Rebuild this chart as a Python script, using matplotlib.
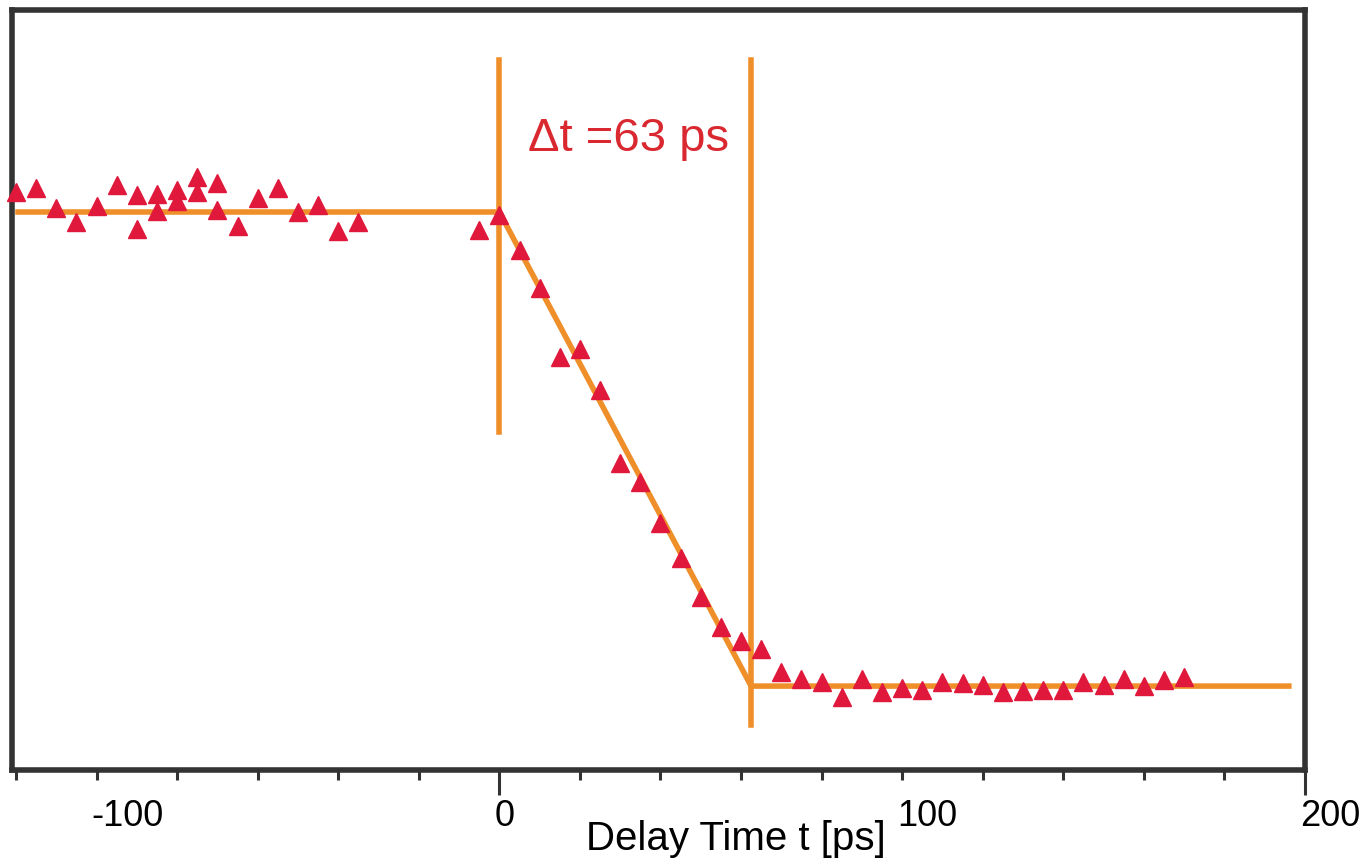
import numpy as np
import matplotlib.pyplot as plt
import matplotlib.transforms as mtransforms

# delay times [ps] and normalised signal
t_pre = [-120, -115, -110, -105, -100, -95, -90, -90, -85, -85, -80, -80,
         -75, -75, -70, -70, -65, -60, -55, -50, -45, -40, -35, -5, 0]
s_pre = [1.042, 1.051, 1.008, 0.979, 1.013, 1.057, 1.036, 0.964, 1.038, 1.002,
         1.046, 1.023, 1.074, 1.042, 1.061, 1.004, 0.970, 1.030, 1.051, 1.000,
         1.015, 0.960, 0.979, 0.962, 0.994]
t_ramp = [5, 10, 15, 20, 25, 30, 35, 40, 45, 50, 55, 60, 65]
s_ramp = [0.920, 0.840, 0.694, 0.711, 0.624, 0.470, 0.430, 0.344, 0.270,
          0.188, 0.124, 0.095, 0.078]
t_post = [70, 75, 80, 85, 90, 95, 100, 105, 110, 115, 120, 125, 130, 135,
          140, 145, 150, 155, 160, 165, 170]
s_post = [0.030, 0.015, 0.008, -0.023, 0.015, -0.013, -0.004, -0.008, 0.008,
          0.006, 0.002, -0.013, -0.011, -0.008, -0.008, 0.008, 0.002, 0.015,
          0.000, 0.013, 0.019]

# piecewise linear fit
fit_t = [-119.5, 0, 62.5, 196]
fit_s = [1.0, 1.0, 0.0, 0.0]
dt = 63
xticks_major = [-100, 0, 100, 200]

t = t_pre + t_ramp + t_post
s = s_pre + s_ramp + s_post

orange = '#EF8F2A'
red = '#E0193C'
dark = '#333333'

plt.rcParams['font.family'] = ['Liberation Sans', 'DejaVu Sans']
plt.rcParams['axes.unicode_minus'] = False

fig = plt.figure(figsize=(13.63, 8.64), dpi=100)
ax = fig.add_axes([0.0088, 0.1088, 0.9486, 0.8796])

ax.plot(fit_t, fit_s, color=orange, lw=4.0, solid_joinstyle='miter', zorder=2)
ax.plot([0, 0], [0.536, 1.321], color=orange, lw=4.0, zorder=2)
ax.plot([62.5, 62.5], [-0.082, 1.321], color=orange, lw=4.0, zorder=2)
ax.plot(t, s, '^', color=red, ms=13, mec=red, zorder=3, clip_on=False)

ax.text(7, 1.155, '\u0394t =%d ps' % dt, color='#D92830', fontsize=34,
        va='center', ha='left')

ax.set_xlim(-121, 200)
ax.set_ylim(-0.177, 1.426)

for sp in ax.spines.values():
    sp.set_color(dark)
    sp.set_linewidth(4.0)

ax.set_yticks([])
ax.set_xticks(xticks_major)
ax.set_xticks(np.arange(-120, 201, 20), minor=True)
ax.tick_params(axis='x', which='both', direction='out', color=dark,
               width=2.2, length=7, labelsize=26, pad=14)
shift = mtransforms.ScaledTranslation(-5 / 100, 0, fig.dpi_scale_trans)
for tk in ax.xaxis.get_major_ticks():
    tk.label1.set_horizontalalignment('left')
    tk.label1.set_transform(tk.label1.get_transform() + shift)
for tk, v in zip(ax.xaxis.get_major_ticks(), xticks_major):
    if v in (0, 200):
        tk.tick1line.set_markersize(18)

ax.set_xlabel('Delay Time t [ps]', fontsize=29)
ax.xaxis.set_label_coords(0.56, -0.066, transform=ax.transAxes)
ax.xaxis.label.set_va('top')

fig.savefig('out.png', dpi=100)
